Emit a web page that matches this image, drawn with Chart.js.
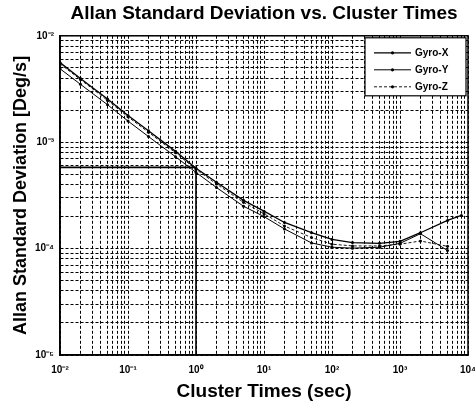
<!DOCTYPE html>
<html>
<head>
<meta charset="utf-8">
<script src="https://cdn.jsdelivr.net/npm/chart.js@4.4.0/dist/chart.umd.min.js"></script>
<style>
  html, body { margin: 0; padding: 0; background: #fff; }
  #wrap { width: 475px; height: 405px; }
</style>
</head>
<body>
<div id="wrap"><canvas id="allan" width="475" height="405"></canvas></div>
<script>
// cluster times (sec)
var tau = [0.01, 0.02, 0.05, 0.1, 0.2, 0.5, 1, 2, 5, 10, 20, 50, 100, 200, 500, 1000, 2000, 5000, 8000];
// allan deviation [deg/s]
var gyroX = [5.6e-3, 3.97e-3, 2.55e-3, 1.78e-3, 1.28e-3, 8.2e-4, 5.7e-4, 4.2e-4, 2.84e-4, 2.25e-4, 1.76e-4, 1.41e-4, 1.22e-4, 1.14e-4, 1.12e-4, 1.17e-4, 1.41e-4, 1.84e-4, 2.05e-4];
var gyroY = [4.9e-3, 3.5e-3, 2.25e-3, 1.58e-3, 1.13e-3, 7.3e-4, 5.2e-4, 3.75e-4, 2.5e-4, 2.0e-4, 1.53e-4, 1.13e-4, 1.03e-4, 1.01e-4, 1.03e-4, 1.12e-4, 1.38e-4, 9.6e-5, null];
var gyroZ = [5.45e-3, 3.88e-3, 2.47e-3, 1.73e-3, 1.24e-3, 7.95e-4, 5.55e-4, 4.05e-4, 2.72e-4, 2.13e-4, 1.63e-4, 1.27e-4, 1.1e-4, 1.06e-4, 1.06e-4, 1.1e-4, 1.18e-4, 1.05e-4, null];
// angle random walk read-out at tau = 1 s
var arwTau = [0.01, 1, 1];
var arwVal = [5.8e-4, 5.8e-4, 1e-5];

var seriesNames = ['Gyro-X', 'Gyro-Y', 'Gyro-Z'];
var xDecades = [-2, -1, 0, 1, 2, 3, 4];
var yDecades = [-5, -4, -3, -2];

var sup = { '-': '\u207B', '0': '\u2070', '1': '\u00B9', '2': '\u00B2', '3': '\u00B3', '4': '\u2074', '5': '\u2075' };
function decadeLabel(e) {
  var s = String(e).split('').map(function (c) { return sup[c]; }).join('');
  return '10' + s;
}
function logTicks(decades) {
  var t = [];
  for (var i = 0; i < decades.length - 1; i++) {
    for (var m = 1; m <= 9; m++) t.push({ value: Number(m + 'e' + decades[i]) });
  }
  t.push({ value: Number('1e' + decades[decades.length - 1]) });
  return t;
}
function tickLabel(value) {
  var e = Math.log10(value);
  if (Math.abs(e - Math.round(e)) < 1e-6) return decadeLabel(Math.round(e));
  return '';
}
function pts(xs, ys) {
  var out = [];
  for (var i = 0; i < xs.length; i++) out.push({ x: xs[i], y: ys[i] });
  return out;
}

var font = "'Liberation Sans', Arial, Helvetica, sans-serif";

var styles = [
  { w: 1.3, dash: [] },
  { w: 1.0, dash: [] },
  { w: 0.9, dash: [3, 2] }
];

var datasets = [gyroX, gyroY, gyroZ].map(function (vals, i) {
  return {
    label: seriesNames[i],
    data: pts(tau, vals),
    borderColor: '#000',
    backgroundColor: '#000',
    borderWidth: styles[i].w,
    borderDash: styles[i].dash,
    pointRadius: 1.5,
    pointBackgroundColor: '#000',
    pointBorderWidth: 0,
    tension: 0,
    spanGaps: false
  };
});
datasets.push({
  label: 'ARW',
  data: pts(arwTau, arwVal),
  borderColor: '#000',
  borderWidth: 1.6,
  pointRadius: 0,
  tension: 0
});

var frame = {
  id: 'frame',
  afterDatasetsDraw: function (chart) {
    var a = chart.chartArea, ctx = chart.ctx;
    ctx.save();
    ctx.strokeStyle = '#000';
    ctx.lineWidth = 1.5;
    ctx.strokeRect(a.left, a.top, a.right - a.left, a.bottom - a.top);

    // legend box, upper right inside the axes
    var bx = a.right - 103, by = a.top + 2, bw = 101, bh = 58;
    ctx.fillStyle = '#fff';
    ctx.fillRect(bx, by, bw, bh);
    ctx.lineWidth = 1.2;
    ctx.strokeRect(bx, by, bw, bh);
    ctx.font = 'bold 10px ' + font;
    ctx.textBaseline = 'middle';
    ctx.textAlign = 'left';
    for (var i = 0; i < seriesNames.length; i++) {
      var yy = by + 15 + i * 17;
      ctx.strokeStyle = '#000';
      ctx.lineWidth = styles[i].w;
      ctx.setLineDash(styles[i].dash);
      ctx.beginPath();
      ctx.moveTo(bx + 9, yy);
      ctx.lineTo(bx + 46, yy);
      ctx.stroke();
      ctx.setLineDash([]);
      ctx.fillStyle = '#000';
      ctx.beginPath();
      ctx.arc(bx + 27.5, yy, 1.6, 0, Math.PI * 2);
      ctx.fill();
      ctx.fillText(seriesNames[i], bx + 50, yy);
    }
    ctx.restore();
  }
};

var ctx = document.getElementById('allan').getContext('2d');
var chart = new Chart(ctx, {
  type: 'line',
  data: { datasets: datasets },
  plugins: [frame],
  options: {
    responsive: false,
    animation: false,
    layout: { padding: { left: 0, right: 7, top: 0, bottom: 0 } },
    plugins: {
      legend: { display: false },
      tooltip: { enabled: false },
      title: {
        display: true,
        fullSize: false,
        text: 'Allan Standard Deviation vs. Cluster Times',
        color: '#000',
        font: { family: font, size: 19, weight: 'bold' },
        padding: { top: 2, bottom: 11 }
      }
    },
    scales: {
      x: {
        type: 'logarithmic',
        min: 0.01,
        max: 10000,
        afterBuildTicks: function (axis) { axis.ticks = logTicks(xDecades); },
        afterFit: function (axis) { axis.height = 50; axis.paddingLeft = 0; axis.paddingRight = 0; },
        ticks: {
          autoSkip: false,
          maxRotation: 0,
          color: '#000',
          padding: 9,
          font: { family: font, size: 10, weight: 'bold' },
          callback: function (v) { return tickLabel(v); }
        },
        grid: { color: '#000', lineWidth: 1, drawTicks: false },
        border: { display: true, color: '#000', width: 1.5, dash: [3, 2] },
        title: {
          display: true,
          text: 'Cluster Times (sec)',
          color: '#000',
          font: { family: font, size: 19, weight: 'bold' },
          padding: { top: 0, bottom: 2 }
        }
      },
      y: {
        type: 'logarithmic',
        min: 1e-5,
        max: 1e-2,
        afterBuildTicks: function (axis) { axis.ticks = logTicks(yDecades); },
        afterFit: function (axis) { axis.width = 60; },
        ticks: {
          autoSkip: false,
          color: '#000',
          padding: 6,
          font: { family: font, size: 10, weight: 'bold' },
          callback: function (v) { return tickLabel(v); }
        },
        grid: { color: '#000', lineWidth: 1, drawTicks: false },
        border: { display: true, color: '#000', width: 1.5, dash: [3, 2] },
        title: {
          display: true,
          text: 'Allan Standard Deviation [Deg/s]',
          color: '#000',
          font: { family: font, size: 18, weight: 'bold' },
          padding: { top: 10, bottom: 0 }
        }
      }
    }
  }
});
</script>
</body>
</html>
